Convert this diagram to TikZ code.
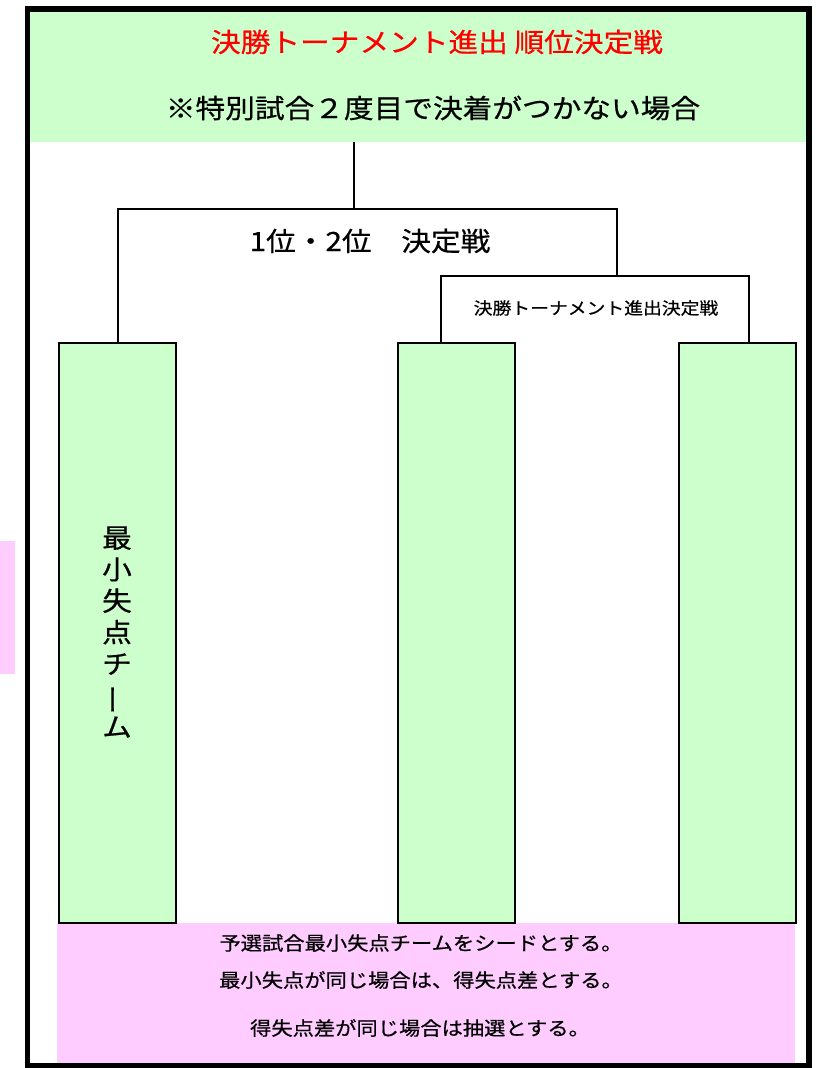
\documentclass[tikz,border=0pt]{standalone}
\usepackage{fontspec}
\usepackage{graphicx}
\newfontfamily\jp[FakeStretch=1.12,FakeBold=0.6]{Noto Sans CJK JP}
\definecolor{lgreen}{HTML}{CCFFCC}
\definecolor{lpink}{HTML}{FFCCFF}
\tikzset{
  teambox/.style={draw=black, line width=2pt, fill=lgreen, minimum width=117pt, minimum height=580pt, inner sep=0pt, anchor=north west},
  conn/.style={draw=black, line width=2pt},
  bigtxt/.style={font=\jp\fontsize{26.5}{26.5}\selectfont, inner sep=0pt},
  midtxt/.style={font=\jp\fontsize{16.8}{16.8}\selectfont, inner sep=0pt},
  smalltxt/.style={font=\jp\fontsize{19}{19}\selectfont, inner sep=0pt},
}
\begin{document}
\begin{tikzpicture}[x=1pt,y=-1pt]
\useasboundingbox (0,0) rectangle (816,1068);
% header band
\node[fill=lgreen, minimum width=776pt, minimum height=130pt, inner sep=0pt, anchor=north west] (header) at (30,12) {};
\node[bigtxt, text=red] (title) at (437,42) {決勝トーナメント進出 順位決定戦};
\node[bigtxt] (note) at (433,108) {※特別試合２度目で決着がつかない場合};
% left pink strip
\node[fill=lpink, minimum width=15pt, minimum height=133pt, inner sep=0pt, anchor=north west] (strip) at (0,541) {};
% bottom pink area
\node[fill=lpink, minimum width=738pt, minimum height=143pt, inner sep=0pt, anchor=north west] (rules) at (57,923) {};
\node[smalltxt] (r1) at (421,943) {予選試合最小失点チームをシードとする。};
\node[smalltxt] (r2) at (421,980) {最小失点が同じ場合は、得失点差とする。};
\node[smalltxt] (r3) at (420,1028) {得失点差が同じ場合は抽選とする。};
% team boxes
\node[teambox] (lbox) at (58,342) {};
\node[teambox] (mbox) at (397,342) {};
\node[teambox] (rbox) at (677.5,342) {};
\node[align=center, font=\jp\fontsize{26.5}{31.5}\selectfont, inner sep=0pt] (seed) at (117,632)
  {最\\小\\失\\点\\チ\\\rotatebox[origin=c]{90}{ー}\\ム};
% bracket
\coordinate (hb) at (354,142);
\coordinate (j1) at (354,209);
\coordinate (c1) at (617,209);
\coordinate (c2) at (617,276);
\coordinate (m2) at (441,276);
\coordinate (n2) at (749,276);
\draw[conn] (hb) -- (j1);
\draw[conn] (lbox.north) |- (c1) -- (c2);
\draw[conn] (m2 |- mbox.north) -- (m2) -- (n2) -- (n2 |- rbox.north);
\node[bigtxt] (final12) at (370,241) {1位・2位　決定戦};
\node[midtxt] (qual) at (596,308) {決勝トーナメント進出決定戦};
% outer frame
\draw[line width=5.5pt] (27.5,9) rectangle (809,1066);
\end{tikzpicture}
\end{document}
